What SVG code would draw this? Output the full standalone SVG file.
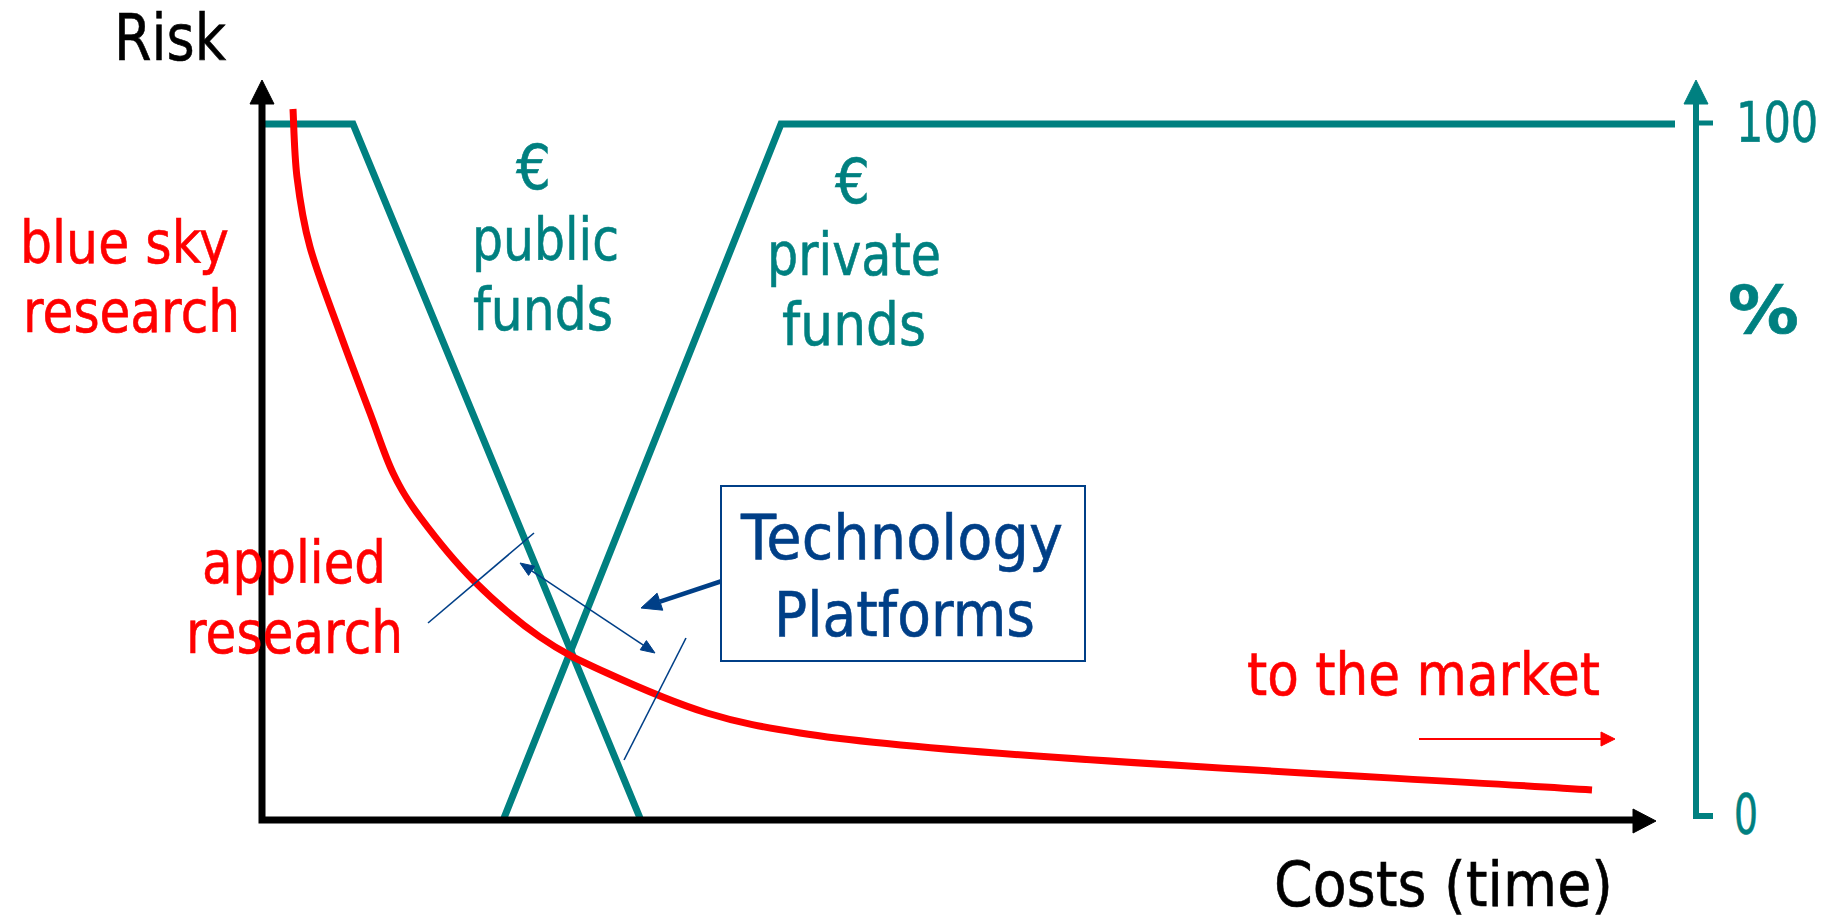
<svg xmlns="http://www.w3.org/2000/svg" width="1838" height="919" viewBox="0 0 1838 919">
<style>
text{font-family:"DejaVu Sans","Liberation Sans",sans-serif;stroke-width:0.6;}
.blk{fill:#000;stroke:#000;}
.red{fill:#ff0000;stroke:#ff0000;}
.teal{fill:#008080;stroke:#008080;}
.navy{fill:#003f87;stroke:#003f87;}
polygon{stroke:none;}
.axis{stroke:#000;stroke-width:7;fill:none;stroke-linejoin:miter;}
.tl{stroke:#008080;stroke-width:7;fill:none;stroke-linejoin:miter;}
.thin{stroke:#003f87;stroke-width:1.6;fill:none;}
</style>
<rect width="1838" height="919" fill="#fff"/>
<g id="connectors">
  <path class="tl" d="M262,124 H353 L640,818"/>
  <path class="tl" d="M504,818 L781,124 H1675"/>
  <path id="red-curve" d="M293,109 C293.7,120.3 294.2,154 297,177 C299.8,200 302.8,221 310,247 C317.2,273 330,305.3 340,333 C350,360.7 361.2,389.7 370,413 C378.8,436.3 384.7,455.7 393,473 C401.3,490.3 406.7,499.2 420,517 C433.3,534.8 453,560 473,580 C493,600 517.7,621.5 540,637 C562.3,652.5 579.2,660.3 607,673 C634.8,685.7 674.8,703 707,713 C739.2,723 764.7,727.3 800,733 C950,757 1400,777 1592,790" fill="none" stroke="#ff0000" stroke-width="7"/>
  <line class="thin" x1="428" y1="623" x2="534" y2="533"/>
  <line class="thin" x1="531.7" y1="570.8" x2="643.3" y2="645.2"/>
  <polygon class="navy" points="520,563 528.6,575.4 534.7,566.2"/>
  <polygon class="navy" points="655,653 640.2,649.8 646.4,640.6"/>
  <line class="thin" x1="686" y1="638" x2="624" y2="760"/>
  <line x1="731" y1="578" x2="660" y2="601.7" stroke="#003f87" stroke-width="4.5"/>
  <polygon class="navy" points="641,608 662.8,610.2 657.1,593.2"/>
  <line x1="1419" y1="739" x2="1602" y2="739" stroke="#ff0000" stroke-width="2"/>
  <polygon class="red" points="1615,739 1601,732 1601,746"/>
</g>
<g id="risk-axis">
  <path class="axis" d="M262,100 V820 H1636"/>
  <polygon class="blk" points="262,80 250,104 274,104"/>
  <polygon class="blk" points="1656,821 1633,809 1633,833"/>
  <text class="blk" x="114" y="60" font-size="64" textLength="112" lengthAdjust="spacingAndGlyphs">Risk</text>
  <text class="blk" x="1274" y="906" font-size="63" textLength="339" lengthAdjust="spacingAndGlyphs">Costs (time)</text>
</g>
<g id="percent-axis">
  <path d="M1696,100 V816 H1713" stroke="#008080" stroke-width="6" fill="none"/>
  <line x1="1696" y1="123" x2="1713" y2="123" stroke="#008080" stroke-width="5"/>
  <polygon class="teal" points="1696,80 1684,104 1708,104"/>
  <text class="teal" transform="translate(1736,141) scale(0.77,1)" font-size="56">100</text>
  <text class="teal" x="1734" y="833" font-size="56" textLength="24" lengthAdjust="spacingAndGlyphs">0</text>
  <text class="teal" x="1728" y="333" font-size="66" font-weight="bold" textLength="71" lengthAdjust="spacingAndGlyphs">%</text>
</g>
<g id="blue-sky-research">
  <text class="red" x="20" y="263" font-size="59" textLength="209" lengthAdjust="spacingAndGlyphs">blue sky</text>
  <text class="red" x="23" y="332" font-size="59" textLength="217" lengthAdjust="spacingAndGlyphs">research</text>
</g>
<g id="public-funds">
  <text class="teal" x="516" y="189" font-size="62" textLength="35" lengthAdjust="spacingAndGlyphs">€</text>
  <text class="teal" x="472" y="260" font-size="59" textLength="147" lengthAdjust="spacingAndGlyphs">public</text>
  <text class="teal" x="473" y="330" font-size="59" textLength="140" lengthAdjust="spacingAndGlyphs">funds</text>
</g>
<g id="private-funds">
  <text class="teal" x="835" y="203" font-size="62" textLength="35" lengthAdjust="spacingAndGlyphs">€</text>
  <text class="teal" x="767" y="275" font-size="59" textLength="174" lengthAdjust="spacingAndGlyphs">private</text>
  <text class="teal" x="782" y="345" font-size="59" textLength="144" lengthAdjust="spacingAndGlyphs">funds</text>
</g>
<g id="applied-research">
  <text class="red" x="202" y="583" font-size="59" textLength="184" lengthAdjust="spacingAndGlyphs">applied</text>
  <text class="red" x="186" y="653" font-size="59" textLength="217" lengthAdjust="spacingAndGlyphs">research</text>
</g>
<g id="technology-platforms">
  <rect x="721" y="486" width="364" height="175" fill="#fff" stroke="#003f87" stroke-width="2"/>
  <text class="navy" x="741" y="559" font-size="63" textLength="322" lengthAdjust="spacingAndGlyphs">Technology</text>
  <text class="navy" x="774" y="636" font-size="63" textLength="261" lengthAdjust="spacingAndGlyphs">Platforms</text>
</g>
<g id="to-the-market">
  <text class="red" x="1247" y="695" font-size="58" textLength="353" lengthAdjust="spacingAndGlyphs">to the market</text>
</g>
</svg>
